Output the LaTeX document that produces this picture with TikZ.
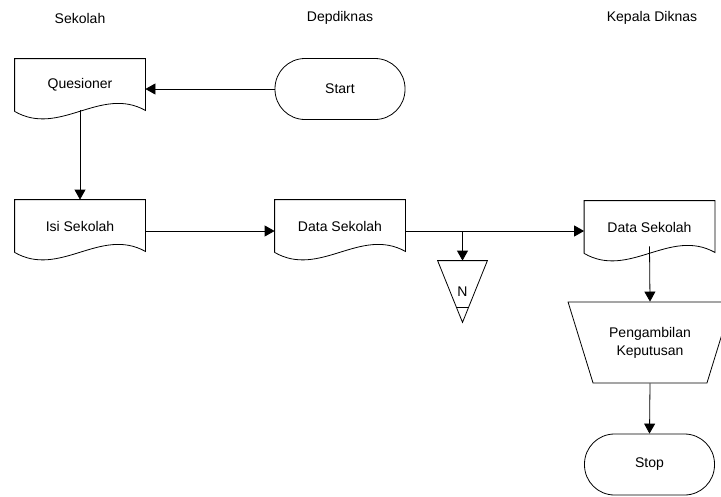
\documentclass[tikz,border=0pt]{standalone}
\usepackage{fontspec}
\setmainfont{Liberation Sans}
\usetikzlibrary{arrows.meta,shapes.geometric}
\tikzset{
	docu/.style={minimum width=130pt,minimum height=52pt,inner sep=0pt},
	term/.style={draw,rounded corners=30pt,minimum width=130pt,minimum height=61pt,inner sep=0pt},
	proc/.style={draw,trapezium,shape border rotate=180,trapezium stretches=true,
		minimum width=164pt,minimum height=81pt,inner sep=0pt,align=center},
	flow/.style={-{Triangle[length=10pt,width=11pt]}},
	lane/.style={font=\fontsize{14}{16}\selectfont}
}
\begin{document}
\begin{tikzpicture}[x=1pt,y=-1pt,line width=0.8pt,font=\fontsize{14}{18}\selectfont]
		\clip (0,0) rectangle (721,496);
		\useasboundingbox (0,0) rectangle (721,496);
		% lanes
		\node[lane] (lsek) at (80,18) {Sekolah};
		\node[lane] (ldep) at (340,18) {Depdiknas};
		\node[lane] (lkep) at (652,18) {Kepala Diknas};
		% nodes
		\node[term] (start) at (340,89) {Start};
		\node[docu] (ques) at (80,85) {Quesioner};
		\node[docu] (isi) at (80,226) {Isi Sekolah};
		\node[docu] (dsa) at (340,226) {Data Sekolah};
		\node[docu] (dsb) at (649.5,227) {Data Sekolah};
		\node[minimum width=49pt,minimum height=61pt,inner sep=0pt] (arsip) at (462.5,291.5) {N};
		\node[proc] (putus) at (650,342.5) {Pengambilan\\Keputusan};
		\node[term] (stop) at (649.5,464.5) {Stop};
		% document outlines
		\foreach \n in {ques,isi,dsa,dsb} {
			\draw (\n.south west) -- (\n.north west) -- (\n.north east) -- ([yshift=1]\n.south east)
				.. controls ([shift={(-45,-26)}]\n.south east) and ([shift={(45,26)}]\n.south west) .. (\n.south west);
		}
		% extract
		\draw (arsip.north west) -- (arsip.north east) -- (arsip.south) -- cycle;
		\draw ([shift={(-6,-15)}]arsip.south) -- ([shift={(6,-15)}]arsip.south);
		% connectors
		\draw[flow] (start.west) -- (ques.east |- start.west);
		\draw[flow] ([yshift=1]ques.south) -- (isi.north);
		\draw[flow] (isi.east |- 0,231) -- (dsa.west |- 0,231);
		\draw[flow] (dsa.east |- 0,231) -- (dsb.west |- 0,231);
		\draw[flow] (arsip.north |- 0,231) -- (arsip.north);
		\draw[flow] ([yshift=7]dsb.south) -- (putus.north);
		\draw[flow] (putus.south) -- (stop.north);
	\end{tikzpicture}
\end{document}
